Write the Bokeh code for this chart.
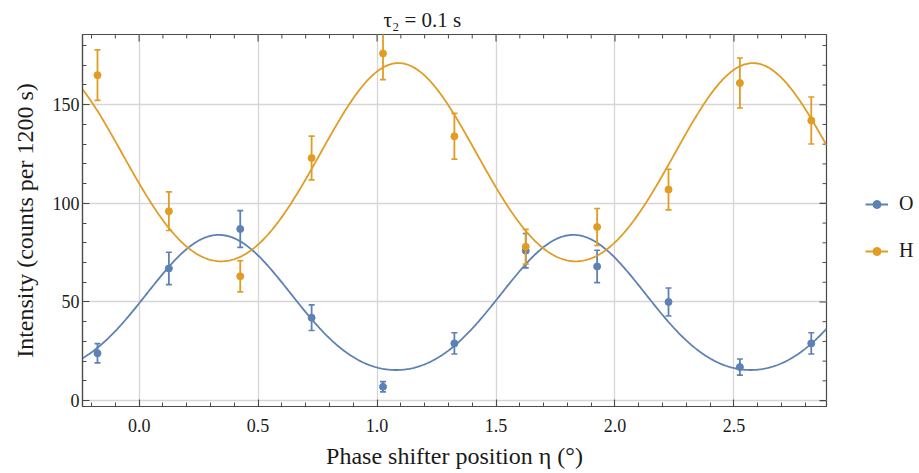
import numpy as np
from bokeh.plotting import figure
from bokeh.layouts import row
from bokeh.models import (Range1d, FixedTicker, NumeralTickFormatter,
                          ColumnDataSource, Legend, LegendItem)
from bokeh.embed import file_html
from bokeh.resources import INLINE

# ---- data ----
positions = [-0.175, 0.125, 0.425, 0.725, 1.025, 1.325, 1.625, 1.925, 2.225, 2.525, 2.825]
counts_O = [24, 67, 87, 42, 7, 29, 76, 68, 50, 17, 29]
err_O = [4.9, 8.2, 9.3, 6.5, 2.6, 5.4, 8.7, 8.2, 7.1, 4.1, 5.4]
counts_H = [165, 96, 63, 123, 176, 134, 78, 88, 107, 161, 142]
err_H = [12.8, 9.8, 7.9, 11.1, 13.3, 11.6, 8.8, 9.4, 10.3, 12.7, 11.9]

# fitted periodic curves: offset, first / second harmonic amplitude, period, position of a maximum
fit_O = dict(offset=46.75, amplitude=34.25, harmonic=3.0, period=1.49, x_max=0.335)
fit_H = dict(offset=118.35, amplitude=50.25, harmonic=2.5, period=1.49, x_max=1.09)

x_ticks = [0.0, 0.5, 1.0, 1.5, 2.0, 2.5]
x_minor = [-0.2, -0.1, 0.1, 0.2, 0.3, 0.4, 0.6, 0.7, 0.8, 0.9, 1.1, 1.2, 1.3, 1.4,
           1.6, 1.7, 1.8, 1.9, 2.1, 2.2, 2.3, 2.4, 2.6, 2.7, 2.8]
y_ticks = [0, 50, 100, 150]
y_minor = [10, 20, 30, 40, 60, 70, 80, 90, 110, 120, 130, 140, 160, 170, 180]

x_lo, x_hi = -0.238, 2.889
y_lo, y_hi = -3.0, 185.6

title_text = "τ₂ = 0.1 s"
x_label = "Phase shifter position η (°)"
y_label = "Intensity (counts per 1200 s)"
series_names = ["O", "H"]

FONT = "Liberation Serif"
BLUE = "#5E81B5"
ORANGE = "#E19C24"
FRAME = "#4a4a4a"
TEXT = "#1a1a1a"
GRID = "#d6d6d6"

p = figure(width=830, height=473, x_range=Range1d(x_lo, x_hi), y_range=Range1d(y_lo, y_hi),
           output_backend="svg", toolbar_location=None,
           min_border_left=82, min_border_right=4, min_border_top=34, min_border_bottom=67)
p.outline_line_color = FRAME
p.outline_line_width = 1.2
p.background_fill_color = "white"
p.border_fill_color = "white"

p.title.text = title_text
p.title.text_font = FONT
p.title.text_font_size = "21px"
p.title.text_font_style = "normal"
p.title.text_color = TEXT
p.title.align = "left"
p.title.offset = 301
p.title.standoff = 5

xt = FixedTicker(ticks=x_ticks, minor_ticks=x_minor)
yt = FixedTicker(ticks=y_ticks, minor_ticks=y_minor)


def style_axis(ax):
    ax.axis_line_color = FRAME
    ax.axis_line_width = 1.2
    ax.major_tick_line_color = FRAME
    ax.minor_tick_line_color = FRAME
    ax.major_tick_line_width = 1.1
    ax.minor_tick_line_width = 1.0
    ax.major_tick_in = 7
    ax.major_tick_out = 0
    ax.minor_tick_in = 4
    ax.minor_tick_out = 0
    ax.major_label_text_font = FONT
    ax.major_label_text_color = TEXT
    ax.major_label_text_font_size = "18px"
    ax.axis_label_text_font = FONT
    ax.axis_label_text_font_size = "24px"
    ax.axis_label_text_font_style = "normal"
    ax.axis_label_text_color = TEXT


xa = p.xaxis[0]
xa.ticker = xt
xa.formatter = NumeralTickFormatter(format="0.0")
style_axis(xa)
xa.major_label_standoff = 12
xa.axis_label = x_label
xa.axis_label_standoff = 8

ya = p.yaxis[0]
ya.ticker = yt
style_axis(ya)
ya.major_label_standoff = 3
ya.axis_label = y_label
ya.axis_label_standoff = 12

# mirrored ticks on the top and right edges of the frame
p.ray(x=x_ticks, y=[y_hi] * len(x_ticks), length=7, angle=-np.pi / 2, length_units="screen",
      line_color=FRAME, line_width=1.1)
p.ray(x=x_minor, y=[y_hi] * len(x_minor), length=4, angle=-np.pi / 2, length_units="screen",
      line_color=FRAME, line_width=1.0)
p.ray(x=[x_hi] * len(y_ticks), y=y_ticks, length=7, angle=np.pi, length_units="screen",
      line_color=FRAME, line_width=1.1)
p.ray(x=[x_hi] * len(y_minor), y=y_minor, length=4, angle=np.pi, length_units="screen",
      line_color=FRAME, line_width=1.0)

p.xgrid.ticker = FixedTicker(ticks=x_ticks)
p.ygrid.ticker = FixedTicker(ticks=y_ticks)
for g in (p.xgrid[0], p.ygrid[0]):
    g.grid_line_color = GRID
    g.grid_line_width = 1.3

# fitted curves
xs = np.linspace(x_lo, x_hi, 600)


def model(f):
    ph = 2 * np.pi * (xs - f["x_max"]) / f["period"]
    return f["offset"] + f["amplitude"] * np.cos(ph) + f["harmonic"] * np.cos(2 * ph)


for name, counts, errs, fit, color in ((series_names[0], counts_O, err_O, fit_O, BLUE),
                                       (series_names[1], counts_H, err_H, fit_H, ORANGE)):
    lo = [c - e for c, e in zip(counts, errs)]
    hi = [c + e for c, e in zip(counts, errs)]
    src = ColumnDataSource(dict(x=positions, y=counts, lo=lo, hi=hi))
    p.line(xs, model(fit), line_color=color, line_width=1.8)
    p.segment(x0="x", y0="lo", x1="x", y1="hi", source=src, line_color=color, line_width=1.8)
    p.scatter(x="x", y="lo", source=src, marker="dash", size=6, line_color=color, line_width=1.6)
    p.scatter(x="x", y="hi", source=src, marker="dash", size=6, line_color=color, line_width=1.6)
    p.scatter(x="x", y="y", source=src, marker="circle", size=7,
              fill_color=color, line_color=color)

# legend panel to the right of the frame (its frame is aligned with the main frame)
q = figure(width=89, height=473, x_range=Range1d(0, 1), y_range=Range1d(0, 1),
           output_backend="svg", toolbar_location=None,
           x_axis_location=None, y_axis_location=None,
           min_border_left=0, min_border_right=0, min_border_top=0, min_border_bottom=0)
q.outline_line_color = None
q.background_fill_color = "white"
q.border_fill_color = "white"
q.xgrid.visible = False
q.ygrid.visible = False

items = []
for name, color in zip(series_names, (BLUE, ORANGE)):
    # legend-only renderers, placed outside the visible range
    ln = q.line(x=[5, 6], y=[5, 6], line_color=color, line_width=2.0)
    dot = q.scatter(x=[5], y=[5], marker="circle", size=5.5, fill_color=color, line_color=color)
    items.append(LegendItem(label=name, renderers=[ln, dot]))

legend = Legend(items=items, location=(35, 144), orientation="vertical")
legend.margin = 0
legend.padding = 0
legend.border_line_alpha = 0
legend.background_fill_alpha = 0
legend.glyph_width = 23
legend.glyph_height = 20
legend.label_height = 20
legend.spacing = 24
legend.label_standoff = 11
legend.label_text_font = FONT
legend.label_text_font_size = "20px"
legend.label_text_color = TEXT
q.add_layout(legend, "center")

layout = row(p, q)
open("out.html", "w").write(file_html(layout, INLINE))
